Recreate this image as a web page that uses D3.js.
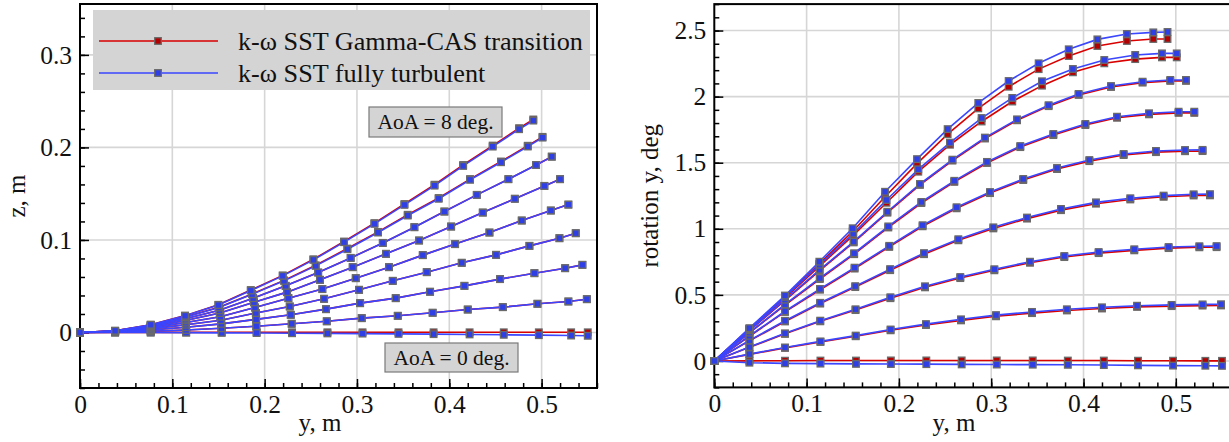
<!DOCTYPE html>
<html><head><meta charset="utf-8">
<script src="https://cdn.jsdelivr.net/npm/d3@7"></script>
<style>
body{margin:0;background:#fff}
svg{display:block}
svg text{font-family:"Liberation Serif","Times New Roman",serif !important;fill:#111}
</style>
</head><body><svg id="c" width="1229" height="442"></svg>
<script>
// ---------------- DATA ----------------
const aoaList = [0,1,2,3,4,5,6,7,8];
// spanwise node positions y (m) for each AoA
const y_AoA0 = [0,0.038,0.0766,0.115,0.1535,0.1913,0.2297,0.268,0.306,0.345,0.383,0.422,0.459,0.497,0.532,0.55];
const y_AoA1 = [0,0.038,0.0766,0.115,0.1532,0.191,0.2293,0.2673,0.3052,0.3442,0.382,0.42,0.458,0.4955,0.529,0.549];
const y_AoA2 = [0,0.038,0.0766,0.1148,0.153,0.1908,0.2283,0.2665,0.3034,0.342,0.3792,0.4164,0.455,0.4922,0.5255,0.5442];
const y_AoA3 = [0,0.038,0.0766,0.1147,0.1527,0.1905,0.2272,0.2644,0.3023,0.3388,0.3756,0.4135,0.4507,0.4868,0.5193,0.537];
const y_AoA4 = [0,0.038,0.0766,0.1145,0.152,0.1895,0.2257,0.2625,0.2987,0.3347,0.3713,0.4063,0.4435,0.4785,0.51,0.529];
const y_AoA5 = [0,0.038,0.0766,0.1143,0.1515,0.1885,0.2243,0.26,0.2954,0.3315,0.3673,0.402,0.4363,0.471,0.503,0.52];
const y_AoA6 = [0,0.038,0.0766,0.1141,0.151,0.1875,0.2228,0.258,0.2932,0.328,0.3622,0.3947,0.4298,0.464,0.494,0.511];
const y_AoA7 = [0,0.038,0.0766,0.114,0.1505,0.1865,0.221,0.2553,0.2896,0.3228,0.355,0.3885,0.4225,0.456,0.485,0.501];
const y_AoA8 = [0,0.038,0.0766,0.1138,0.1499,0.185,0.2196,0.2528,0.286,0.3189,0.3514,0.384,0.415,0.447,0.4756,0.491];

// vertical displacement z (m), fully turbulent
const zTurb_AoA0 = [0,0,-0.0001,-0.0002,-0.0004,-0.0006,-0.0008,-0.001,-0.0012,-0.0015,-0.0018,-0.0021,-0.0025,-0.0029,-0.0033,-0.0036];
const zTurb_AoA1 = [0,0.0003,0.0013,0.0027,0.0046,0.0068,0.0094,0.0121,0.0155,0.018,0.0213,0.0248,0.0274,0.031,0.0335,0.036];
const zTurb_AoA2 = [0,0.0006,0.0026,0.0057,0.0093,0.0142,0.0191,0.0252,0.0317,0.0371,0.044,0.0504,0.0577,0.0641,0.0695,0.0731];
const zTurb_AoA3 = [0,0.0008,0.0039,0.0084,0.0133,0.021,0.0281,0.0364,0.0461,0.0558,0.0652,0.0753,0.0839,0.0936,0.1019,0.1073];
const zTurb_AoA4 = [0,0.0011,0.005,0.0107,0.017,0.027,0.0371,0.0469,0.0587,0.0706,0.0836,0.0955,0.108,0.121,0.1318,0.1382];
const zTurb_AoA5 = [0,0.0013,0.006,0.013,0.021,0.0326,0.0436,0.0569,0.0706,0.085,0.0994,0.1145,0.1296,0.1445,0.1584,0.1657];
const zTurb_AoA6 = [0,0.0015,0.0068,0.0148,0.024,0.0371,0.0504,0.0648,0.0806,0.0968,0.1138,0.1307,0.1487,0.1657,0.181,0.19];
const zTurb_AoA7 = [0,0.0017,0.0076,0.0165,0.027,0.0413,0.0558,0.072,0.09,0.108,0.1264,0.1445,0.165,0.184,0.201,0.2106];
const zTurb_AoA8 = [0,0.0018,0.0083,0.018,0.0296,0.0454,0.0612,0.0785,0.0976,0.1174,0.1379,0.1587,0.18,0.2009,0.2197,0.229];
// transition z where it visibly differs from fully turbulent
const zTrans_AoA0 = [0,0,0.0001,0.0001,0.0002,0.0002,0.0002,0.0002,0.0002,0.0002,0.0002,0.0002,0.0002,0.0002,0.0002,0.0002];
const zTrans_AoA7 = [0,0.0017,0.0077,0.0167,0.0273,0.0417,0.0563,0.0726,0.0907,0.1087,0.1272,0.1453,0.1658,0.1848,0.2018,0.2114];
const zTrans_AoA8 = [0,0.0018,0.0084,0.0182,0.0299,0.0458,0.0617,0.0791,0.0983,0.1182,0.1388,0.1597,0.181,0.202,0.2208,0.2302];

// rotation about y (deg), fully turbulent
const rotTurb_AoA0 = [0,-0.013,-0.018,-0.02,-0.022,-0.023,-0.024,-0.026,-0.027,-0.028,-0.029,-0.031,-0.033,-0.035,-0.036,-0.037];
const rotTurb_AoA1 = [0,0.052,0.102,0.148,0.192,0.238,0.279,0.315,0.347,0.371,0.391,0.406,0.418,0.424,0.428,0.429];
const rotTurb_AoA2 = [0,0.105,0.209,0.305,0.391,0.482,0.565,0.635,0.694,0.751,0.794,0.824,0.845,0.862,0.868,0.869];
const rotTurb_AoA3 = [0,0.155,0.304,0.44,0.566,0.695,0.816,0.921,1.011,1.085,1.15,1.2,1.231,1.251,1.261,1.262];
const rotTurb_AoA4 = [0,0.19,0.376,0.545,0.706,0.871,1.027,1.163,1.278,1.377,1.46,1.52,1.566,1.589,1.596,1.597];
const rotTurb_AoA5 = [0,0.215,0.428,0.627,0.815,1.018,1.203,1.363,1.506,1.626,1.717,1.793,1.848,1.874,1.886,1.886];
const rotTurb_AoA6 = [0,0.232,0.464,0.69,0.903,1.129,1.339,1.523,1.69,1.828,1.935,2.02,2.08,2.113,2.126,2.126];
const rotTurb_AoA7 = [0,0.242,0.485,0.728,0.963,1.218,1.45,1.652,1.838,1.99,2.116,2.209,2.277,2.315,2.327,2.327];
const rotTurb_AoA8 = [0,0.248,0.495,0.751,1.004,1.28,1.527,1.754,1.952,2.118,2.252,2.358,2.433,2.474,2.486,2.489];
// rotation about y (deg), Gamma-CAS transition
const rotTrans_AoA0 = [0,0.001,0.002,0.003,0.003,0.004,0.004,0.004,0.004,0.004,0.003,0.003,0.002,0.002,0.001,0.001];
const rotTrans_AoA1 = [0,0.05,0.099,0.144,0.187,0.232,0.272,0.307,0.338,0.362,0.382,0.397,0.409,0.415,0.419,0.42];
const rotTrans_AoA2 = [0,0.103,0.205,0.3,0.385,0.475,0.557,0.627,0.686,0.743,0.786,0.816,0.837,0.854,0.86,0.861];
const rotTrans_AoA3 = [0,0.152,0.299,0.434,0.559,0.687,0.808,0.913,1.003,1.077,1.141,1.19,1.222,1.242,1.252,1.253];
const rotTrans_AoA4 = [0,0.187,0.371,0.539,0.699,0.863,1.019,1.155,1.27,1.369,1.452,1.512,1.558,1.58,1.587,1.588];
const rotTrans_AoA5 = [0,0.212,0.422,0.62,0.808,1.01,1.195,1.355,1.498,1.618,1.709,1.785,1.84,1.866,1.877,1.877];
const rotTrans_AoA6 = [0,0.229,0.459,0.684,0.897,1.122,1.332,1.516,1.683,1.821,1.928,2.013,2.073,2.106,2.119,2.119];
const rotTrans_AoA7 = [0,0.238,0.478,0.718,0.95,1.197,1.432,1.636,1.812,1.963,2.083,2.184,2.252,2.284,2.297,2.297];
const rotTrans_AoA8 = [0,0.243,0.487,0.735,0.98,1.243,1.493,1.716,1.911,2.075,2.208,2.307,2.383,2.421,2.436,2.436];

const xTicks = [0,0.1,0.2,0.3,0.4,0.5];
const zTicks = [0,0.1,0.2,0.3];
const rotTicks = [0,0.5,1,1.5,2,2.5];
const xTickLabels = ["0","0.1","0.2","0.3","0.4","0.5"];
const zTickLabels = ["0","0.1","0.2","0.3"];
const rotTickLabels = ["0","0.5","1","1.5","2","2.5"];
const seriesNames = ["k-ω SST Gamma-CAS transition","k-ω SST fully turbulent"];
const noteTop = "AoA = 8 deg.";
const noteBottom = "AoA = 0 deg.";
const xTitle = "y, m";
const zTitle = "z, m";
const rotTitle = "rotation y, deg";

// ---------------- TABLES ----------------
const yNodes = [y_AoA0,y_AoA1,y_AoA2,y_AoA3,y_AoA4,y_AoA5,y_AoA6,y_AoA7,y_AoA8];
const zTurb = [zTurb_AoA0,zTurb_AoA1,zTurb_AoA2,zTurb_AoA3,zTurb_AoA4,zTurb_AoA5,zTurb_AoA6,zTurb_AoA7,zTurb_AoA8];
const zTrans = zTurb.slice(); zTrans[0]=zTrans_AoA0; zTrans[7]=zTrans_AoA7; zTrans[8]=zTrans_AoA8;
const rotTurb = [rotTurb_AoA0,rotTurb_AoA1,rotTurb_AoA2,rotTurb_AoA3,rotTurb_AoA4,rotTurb_AoA5,rotTurb_AoA6,rotTurb_AoA7,rotTurb_AoA8];
const rotTrans = [rotTrans_AoA0,rotTrans_AoA1,rotTrans_AoA2,rotTrans_AoA3,rotTrans_AoA4,rotTrans_AoA5,rotTrans_AoA6,rotTrans_AoA7,rotTrans_AoA8];

// ---------------- STYLE ----------------
const SERIF = '"Liberation Serif","Times New Roman",serif';
const RED = "#d90000", RED_FILL = "#b30000";
const BLUE = "#3a46ff", BLUE_FILL = "#2f3fe6";
const MK_STROKE = "#6a6a6a";
const GRID = "#d6d6d6";
const svg = d3.select("#c");

function range(a,b,s){const r=[];for(let v=a;v<=b+1e-9;v+=s)r.push(+v.toFixed(4));return r;}

function panel(cfg){
  const {x,y,xt,xtl,yt,ytl,xMinor,yMinor,xTitleX,yTitle,yTitleX} = cfg;
  const g = svg.append("g");
  const [x0,x1] = x.range(), [y0,y1] = y.range();
  // grid
  g.append("g").selectAll("line").data(xt.filter(v=>v>0)).join("line")
    .attr("x1",d=>x(d)).attr("x2",d=>x(d)).attr("y1",y0).attr("y2",y1)
    .attr("stroke",GRID).attr("stroke-width",1.6);
  g.append("g").selectAll("line").data(yt).join("line")
    .attr("x1",x0).attr("x2",x1).attr("y1",d=>y(d)).attr("y2",d=>y(d))
    .attr("stroke",GRID).attr("stroke-width",1.6);
  // minor ticks
  const mb = g.append("g").attr("transform",`translate(0,${y0})`)
    .call(d3.axisBottom(x).tickValues(xMinor).tickSize(-5).tickFormat(""));
  const ml = g.append("g").attr("transform",`translate(${x0},0)`)
    .call(d3.axisLeft(y).tickValues(yMinor).tickSize(-5).tickFormat(""));
  // major ticks
  const ab = g.append("g").attr("transform",`translate(0,${y0})`)
    .call(d3.axisBottom(x).tickValues(xt).tickSize(-9).tickPadding(7).tickFormat((d,i)=>xtl[i]));
  const al = g.append("g").attr("transform",`translate(${x0},0)`)
    .call(d3.axisLeft(y).tickValues(yt).tickSize(-9).tickPadding(8).tickFormat((d,i)=>ytl[i]));
  [mb,ml,ab,al].forEach(a=>{
    a.attr("font-family",SERIF).attr("font-size",25.5);
    a.select(".domain").remove();
    a.selectAll("line").attr("stroke","#000").attr("stroke-width",1.5);
    a.selectAll("text").style("font-family",SERIF).style("font-size","25.5px").attr("fill","#111");
  });
  // frame
  g.append("rect").attr("x",x0).attr("y",y1).attr("width",x1-x0).attr("height",y0-y1)
    .attr("fill","none").attr("stroke","#000").attr("stroke-width",2);
  // titles
  g.append("text").attr("x",xTitleX).attr("y",431).attr("text-anchor","middle").style("font-size","25px").text(xTitle);
  g.append("text").attr("transform",`translate(${yTitleX},${(y0+y1)/2}) rotate(-90)`)
    .attr("text-anchor","middle").style("font-size","25px").text(yTitle);
  return g;
}

function series(g,x,y,ys,vs,color,fill){
  const pts = ys.map((v,i)=>[v,vs[i]]);
  const sg = g.append("g");
  sg.append("path").datum(pts)
    .attr("d",d3.line().x(d=>x(d[0])).y(d=>y(d[1])))
    .attr("fill","none").attr("stroke",color).attr("stroke-width",1.6);
  sg.selectAll("rect").data(pts).join("rect")
    .attr("x",d=>x(d[0])-3.3).attr("y",d=>y(d[1])-3.3).attr("width",6.6).attr("height",6.6)
    .attr("fill",fill).attr("stroke",MK_STROKE).attr("stroke-width",1.3);
}

// ---------------- LEFT PANEL ----------------
const xL = d3.scaleLinear([0,0.56],[80,597]);
const yL = d3.scaleLinear([-0.06,0.355],[388,4]);
const gL = panel({x:xL,y:yL,xt:xTicks,xtl:xTickLabels,yt:zTicks,ytl:zTickLabels,
  xMinor:range(0,0.56,0.02),yMinor:range(-0.06,0.34,0.02),xTitleX:320,yTitle:zTitle,yTitleX:25});
aoaList.forEach(a=>series(gL,xL,yL,yNodes[a],zTrans[a],RED,RED_FILL));
aoaList.forEach(a=>series(gL,xL,yL,yNodes[a],zTurb[a],BLUE,BLUE_FILL));

// legend
const lg = svg.append("g");
lg.append("rect").attr("x",93).attr("y",10).attr("width",497).attr("height",80).attr("fill","#d4d4d4");
[[RED,RED_FILL,41],[BLUE,BLUE_FILL,73]].forEach(([c,f,yy],i)=>{
  lg.append("line").attr("x1",99).attr("x2",218).attr("y1",yy).attr("y2",yy).attr("stroke",c).attr("stroke-width",1.5);
  lg.append("rect").attr("x",158-3.3).attr("y",yy-3.3).attr("width",6.6).attr("height",6.6)
    .attr("fill",f).attr("stroke",MK_STROKE).attr("stroke-width",1.3);
  lg.append("text").attr("x",238).attr("y",yy+9).style("font-size","26.2px").text(seriesNames[i]);
});

// annotations
function note(x,y,w,h,t){
  svg.append("rect").attr("x",x).attr("y",y).attr("width",w).attr("height",h)
    .attr("fill","#d4d4d4").attr("stroke","#7a7a7a").attr("stroke-width",1.2);
  svg.append("text").attr("x",x+w/2).attr("y",y+h/2+7).attr("text-anchor","middle").style("font-size","21.5px").text(t);
}
note(369,107,133,30,noteTop);
note(385,343,133,29,noteBottom);

// ---------------- RIGHT PANEL ----------------
const xR = d3.scaleLinear([0,0.56],[714.3,1231.2]);
const yR = d3.scaleLinear([-0.2,2.7],[387.4,4.1]);
const gR = panel({x:xR,y:yR,xt:xTicks,xtl:xTickLabels,yt:rotTicks,ytl:rotTickLabels,
  xMinor:range(0,0.56,0.02),yMinor:range(-0.2,2.7,0.1),xTitleX:954,yTitle:rotTitle,yTitleX:658});
aoaList.forEach(a=>series(gR,xR,yR,yNodes[a],rotTrans[a],RED,RED_FILL));
aoaList.forEach(a=>series(gR,xR,yR,yNodes[a],rotTurb[a],BLUE,BLUE_FILL));
</script>
</body></html>
